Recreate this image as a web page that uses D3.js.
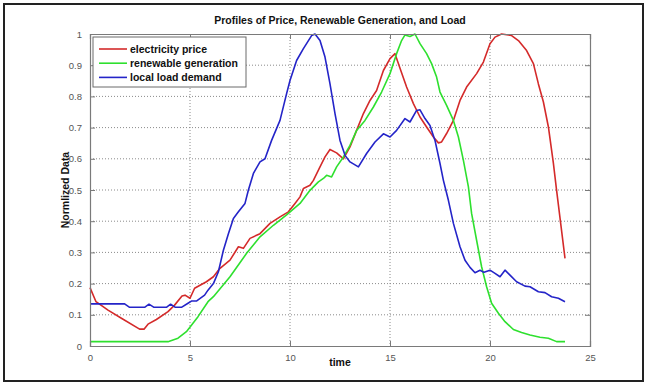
<!DOCTYPE html>
<html>
<head>
<meta charset="utf-8">
<script src="https://cdn.jsdelivr.net/npm/d3@7/dist/d3.min.js"></script>
<style>
body{margin:0;background:#fff}
text{font-family:"Liberation Sans",Arial,sans-serif}
</style>
</head>
<body>
<svg id="chart" width="647" height="384"></svg>
<script>
// values (time in hours, normalized 0..1)
var priceT = [0,0.3,0.9,1.57,2.48,2.7,2.9,3.32,3.9,4.23,4.6,4.75,5,5.23,5.82,6.17,6.5,7,7.42,7.67,8,8.5,9,9.5,9.92,10.25,10.5,10.67,11,11.17,11.5,11.75,12,12.33,12.67,13,13.33,13.67,14,14.33,14.67,15,15.25,15.5,15.83,16.17,16.5,16.83,17.17,17.42,17.58,17.83,18.17,18.5,18.83,19.33,19.67,20,20.25,20.58,21.08,21.42,21.83,22.17,22.42,22.67,22.92,23.17,23.33,23.75];
var priceV = [0.187,0.142,0.115,0.089,0.054,0.054,0.07,0.085,0.11,0.131,0.16,0.163,0.153,0.185,0.206,0.222,0.249,0.275,0.318,0.313,0.345,0.36,0.393,0.414,0.43,0.457,0.478,0.505,0.515,0.531,0.574,0.606,0.63,0.619,0.6,0.638,0.691,0.745,0.787,0.819,0.883,0.921,0.937,0.89,0.83,0.777,0.734,0.702,0.67,0.651,0.654,0.681,0.723,0.787,0.83,0.873,0.91,0.969,0.99,1,0.995,0.979,0.947,0.905,0.84,0.782,0.702,0.585,0.499,0.281];

var renewT = [0,3.9,4.4,4.82,5.4,5.9,6.17,7,7.83,8.5,9.17,9.83,10.5,11,11.42,11.67,11.83,12.08,12.33,12.67,13,13.33,13.75,14.17,14.58,15,15.33,15.58,15.75,16,16.25,16.5,16.83,17.08,17.33,17.5,17.83,18.17,18.42,18.67,18.92,19.08,19.33,19.58,19.83,20.08,20.42,20.75,21.17,21.58,22,22.5,22.92,23.33,23.75];
var renewV = [0.014,0.014,0.025,0.046,0.094,0.142,0.158,0.222,0.297,0.35,0.387,0.42,0.457,0.499,0.526,0.537,0.547,0.542,0.574,0.606,0.643,0.691,0.723,0.766,0.814,0.873,0.937,0.979,0.997,0.992,1,0.969,0.937,0.905,0.862,0.814,0.771,0.723,0.67,0.595,0.51,0.425,0.339,0.254,0.19,0.137,0.105,0.078,0.053,0.043,0.035,0.028,0.025,0.014,0.014];

var loadT = [0,1.73,1.98,2.73,2.95,3.2,3.82,4.03,4.27,4.57,4.9,5.07,5.32,5.73,5.9,6.17,6.42,6.67,6.92,7.17,7.42,7.75,7.92,8.17,8.5,8.75,9.08,9.5,9.83,10,10.33,10.67,11.08,11.25,11.5,11.75,12,12.25,12.5,12.75,13,13.42,13.83,14.25,14.67,15,15.33,15.75,16,16.33,16.5,16.75,17,17.25,17.5,17.67,17.92,18.17,18.5,18.75,19,19.25,19.5,19.7,20,20.25,20.5,20.75,21,21.33,21.75,22,22.42,22.75,23.08,23.42,23.75];
var loadV = [0.135,0.135,0.124,0.124,0.134,0.124,0.124,0.134,0.124,0.124,0.137,0.144,0.144,0.163,0.179,0.2,0.238,0.307,0.36,0.409,0.43,0.457,0.5,0.553,0.59,0.6,0.659,0.723,0.809,0.851,0.915,0.953,0.995,1,0.979,0.926,0.84,0.745,0.659,0.611,0.59,0.574,0.617,0.654,0.68,0.67,0.691,0.729,0.718,0.755,0.757,0.729,0.707,0.659,0.585,0.531,0.467,0.393,0.318,0.275,0.252,0.235,0.243,0.236,0.243,0.233,0.222,0.243,0.227,0.206,0.192,0.19,0.174,0.171,0.158,0.153,0.142];

var seriesNames = ["electricity price","renewable generation","local load demand"];
var seriesColors = ["#d42a2a","#2ee02e","#2424c8"];
var xTicks = [0,5,10,15,20,25];
var yTicks = [0,0.1,0.2,0.3,0.4,0.5,0.6,0.7,0.8,0.9,1];

var svg = d3.select("#chart");
var pLeft = 90, pRight = 590, pTop = 34, pBottom = 346;

// outer frame
svg.append("rect").attr("x",4).attr("y",4).attr("width",639).attr("height",377)
	.attr("fill","none").attr("stroke","#222").attr("stroke-width",2);

var x = d3.scaleLinear().domain([0,25]).range([pLeft,pRight]);
var y = d3.scaleLinear().domain([0,1]).range([pBottom,pTop]);

// grid
var grid = svg.append("g").attr("class","grid");
xTicks.forEach(function(t){
	if(t==0 || t==25) return;
	grid.append("line").attr("x1",x(t)).attr("x2",x(t)).attr("y1",pTop).attr("y2",pBottom);
});
yTicks.forEach(function(t){
	if(t==0 || t==1) return;
	grid.append("line").attr("x1",pLeft).attr("x2",pRight).attr("y1",y(t)).attr("y2",y(t));
});
grid.selectAll("line").attr("stroke","#8a8a8a").attr("stroke-width",1).attr("stroke-dasharray","1,2");

// lines
var allT = [priceT, renewT, loadT];
var allV = [priceV, renewV, loadV];
var line = d3.line().x(function(d){return x(d[0]);}).y(function(d){return y(d[1]);});
for(var i=0;i<3;i++){
	var pts = allT[i].map(function(t,j){return [t, allV[i][j]];});
	svg.append("path").datum(pts).attr("d",line).attr("fill","none")
		.attr("stroke",seriesColors[i]).attr("stroke-width",1.6).attr("stroke-linejoin","round");
}

// axes box (matlab style, ticks inside)
var ax = svg.append("g").attr("class","axes");
ax.append("g").attr("transform","translate(0,"+pBottom+")")
	.call(d3.axisBottom(x).tickValues(xTicks).tickSize(-5).tickPadding(8).tickFormat(d3.format("d")));
ax.append("g").attr("transform","translate(0,"+pTop+")")
	.call(d3.axisTop(x).tickValues(xTicks).tickSize(-5).tickFormat(""));
ax.append("g").attr("transform","translate("+pLeft+",0)")
	.call(d3.axisLeft(y).tickValues(yTicks).tickSize(-5).tickPadding(8).tickFormat(function(d){return String(+d.toFixed(1));}));
ax.append("g").attr("transform","translate("+pRight+",0)")
	.call(d3.axisRight(y).tickValues(yTicks).tickSize(-5).tickFormat(""));
ax.selectAll(".domain").attr("stroke","#7a7a7a").attr("stroke-width",1.2);
ax.selectAll(".tick line").attr("stroke","#7a7a7a");
ax.selectAll(".tick text").attr("fill","#555").style("font-size","9.5px").style("font-family","'Liberation Sans',Arial,sans-serif");

// title and labels
svg.append("text").attr("x",(pLeft+pRight)/2).attr("y",24).attr("text-anchor","middle")
	.style("font-size","10.5px").style("font-weight","bold").attr("fill","#111")
	.text("Profiles of Price, Renewable Generation, and Load");
svg.append("text").attr("x",(pLeft+pRight)/2).attr("y",366).attr("text-anchor","middle")
	.style("font-size","10.5px").style("font-weight","bold").attr("fill","#111").text("time");
svg.append("text").attr("transform","translate(69,190) rotate(-90)").attr("text-anchor","middle")
	.style("font-size","10.5px").style("font-weight","bold").attr("fill","#111").text("Normlized Data");

// legend
var lg = svg.append("g").attr("class","legend");
lg.append("rect").attr("x",93).attr("y",37).attr("width",153).attr("height",50)
	.attr("fill","#fff").attr("stroke","#6a6a6a").attr("stroke-width",1);
seriesNames.forEach(function(n,i){
	var ly = 49 + i*14.2;
	lg.append("line").attr("x1",99).attr("x2",127).attr("y1",ly).attr("y2",ly)
		.attr("stroke",seriesColors[i]).attr("stroke-width",1.6);
	lg.append("text").attr("x",130).attr("y",ly+3.8).style("font-size","10.5px")
		.style("font-weight","bold").attr("fill","#111").text(n);
});
</script>
</body>
</html>
